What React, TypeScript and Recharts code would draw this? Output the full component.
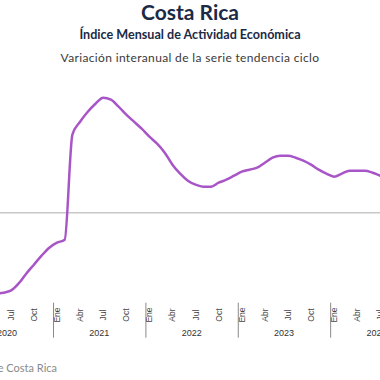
import { LineChart, Line, XAxis, YAxis, ReferenceLine } from 'recharts'

const MONTH_NAMES = ['Ene', 'Feb', 'Mar', 'Abr', 'May', 'Jun', 'Jul', 'Ago', 'Sep', 'Oct', 'Nov', 'Dic']
const YEARS = [2020, 2021, 2022, 2023, 2024]
const SHOWN_MONTHS = ['Ene', 'Abr', 'Jul', 'Oct']

// first value = May 2020 (month index 4 counted from Ene 2020)
const START_INDEX = 4
const VALUES = [
  -8.1, -8.0, -7.8, -7.1, -6.1, -5.2, -4.3, -3.5,
  -3.0, -2.7, 7.8, 9.1, 10.1, 10.9, 11.5, 11.3, 10.6, 9.8, 9.1, 8.4,
  7.6, 6.9, 6.0, 4.8, 3.9, 3.2, 2.8, 2.6, 2.6, 3.0, 3.3, 3.7,
  4.1, 4.3, 4.5, 5.0, 5.5, 5.7, 5.7, 5.5, 5.2, 4.8, 4.3, 3.9,
  3.6, 3.9, 4.2, 4.2, 4.2, 4.0, 3.7, 3.5,
]

const data = VALUES.map((v, k) => ({ idx: START_INDEX + k, value: v }))

const lastIdx = START_INDEX + VALUES.length - 1
const monthTicks = data.map((d) => d.idx).filter((i) => SHOWN_MONTHS.includes(MONTH_NAMES[i % 12]))
const yearTicks = YEARS.map((_, n) => n * 12 + 5.5)
const sepTicks = YEARS.slice(1).map((_, n) => (n + 1) * 12 - 0.45)
const allTicks = [...monthTicks, ...yearTicks, ...sepTicks].sort((a, b) => a - b)

function AxisTick(props: any) {
  const { x, y, payload } = props
  const v = payload.value
  if (sepTicks.includes(v)) {
    return <line x1={x} x2={x} y1={y + 5} y2={y + 40} stroke="#8a8a8a" strokeWidth={1} />
  }
  if (yearTicks.includes(v)) {
    const year = YEARS[Math.round((v - 5.5) / 12)]
    return (
      <text x={x} y={y + 38.5} textAnchor="middle" fontSize={9} fill="#333" fontFamily="'Liberation Sans', Arial, sans-serif">
        {year}
      </text>
    )
  }
  const label = MONTH_NAMES[v % 12]
  const cy = y + 17.3
  return (
    <text
      x={x}
      y={cy}
      transform={`rotate(-90, ${x}, ${cy})`}
      textAnchor="middle"
      dominantBaseline="central"
      fontSize={8.5}
      fill="#444"
      fontFamily="'Liberation Sans', Arial, sans-serif"
    >
      {label}
    </text>
  )
}

export default function App() {
  return (
    <div
      style={{
        position: 'fixed',
        left: 0,
        top: 0,
        width: 380,
        height: 380,
        overflow: 'hidden',
        background: '#fff',
        fontFamily: 'Lato, sans-serif',
      }}
    >
      <div style={{ position: 'absolute', top: 1, width: 380, textAlign: 'center', fontSize: 21, fontWeight: 700, color: '#1b2a47', lineHeight: '22px' }}>
        Costa Rica
      </div>
      <div style={{ position: 'absolute', top: 28, width: 380, textAlign: 'center', fontSize: 12.6, fontWeight: 700, color: '#1b2a47', lineHeight: '14px' }}>
        Índice Mensual de Actividad Económica
      </div>
      <div style={{ position: 'absolute', top: 51, width: 380, textAlign: 'center', fontSize: 12, letterSpacing: 0.35, color: '#3a3a3a', lineHeight: '14px' }}>
        Variación interanual de la serie tendencia ciclo
      </div>
      <div style={{ position: 'absolute', left: -20, top: 0 }}>
        <LineChart width={430} height={360} data={data} margin={{ top: 87.7, right: 22, left: 15.4, bottom: 12.3 }}>
          <XAxis
            dataKey="idx"
            type="number"
            domain={[START_INDEX, lastIdx]}
            ticks={allTicks}
            interval={0}
            tick={<AxisTick />}
            tickLine={false}
            axisLine={false}
            tickSize={0}
            tickMargin={0}
            height={50}
          />
          <YAxis hide domain={[-8.5, 12.5]} />
          <ReferenceLine y={0} stroke="#c8c8c8" strokeWidth={1.5} />
          <Line
            type="monotone"
            dataKey="value"
            stroke="#a855c7"
            strokeWidth={2.5}
            dot={false}
            isAnimationActive={false}
          />
        </LineChart>
      </div>
      <div style={{ position: 'absolute', right: 323, top: 361, fontSize: 11, color: '#8a8a8a', whiteSpace: 'nowrap', lineHeight: '13px' }}>
        Fuente: Banco Central de Costa Rica
      </div>
    </div>
  )
}
